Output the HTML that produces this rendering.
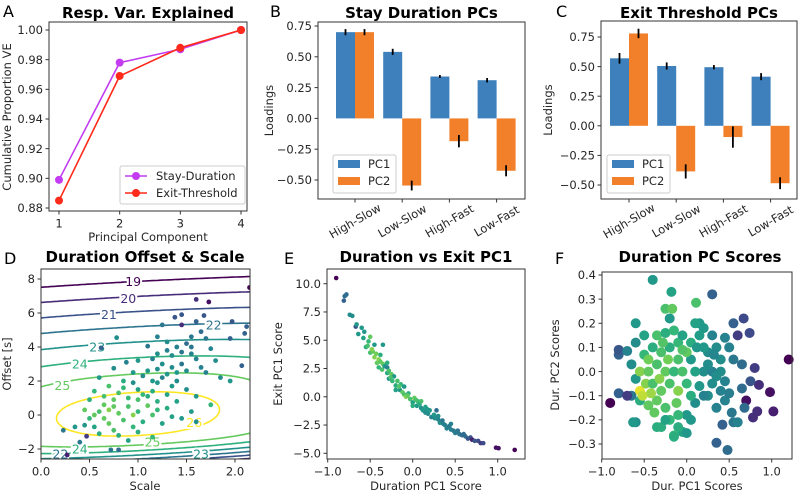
<!DOCTYPE html>
<html><head><meta charset="utf-8">
<style>
html,body{margin:0;padding:0;background:#fff;}
svg{display:block;font-family:"DejaVu Sans","Liberation Sans",sans-serif;}
.t{font-size:11.5px;fill:#262626;}
.ttl{font-size:15px;font-weight:bold;fill:#000;}
.lt{font-size:16px;fill:#000;}
</style></head>
<body>
<svg id="fig" width="800" height="493" viewBox="0 0 800 493" xmlns="http://www.w3.org/2000/svg"></svg>
<script>
// ---------- Panel A data ----------
const pcs = [1, 2, 3, 4];
const stayVE = [0.899, 0.978, 0.987, 1.0];
const exitVE = [0.885, 0.969, 0.988, 1.0];
const aYTicks = [0.88, 0.90, 0.92, 0.94, 0.96, 0.98, 1.00];
// ---------- Panel B/C data ----------
const cats = ["High-Slow", "Low-Slow", "High-Fast", "Low-Fast"];
const stayPC1 = [0.70, 0.54, 0.34, 0.31];
const stayPC1Err = [0.025, 0.025, 0.012, 0.018];
const stayPC2 = [0.70, -0.545, -0.185, -0.425];
const stayPC2Err = [0.025, 0.04, 0.05, 0.045];
const exitPC1 = [0.57, 0.505, 0.495, 0.415];
const exitPC1Err = [0.045, 0.03, 0.018, 0.03];
const exitPC2 = [0.78, -0.385, -0.095, -0.485];
const exitPC2Err = [0.04, 0.06, 0.09, 0.05];
const loadTicks = [-0.50, -0.25, 0.00, 0.25, 0.50, 0.75];
// ---------- Panel D data ----------
const dLevels = [19, 20, 21, 22, 23, 24, 25, 26];
const dXTicks = [0.0, 0.5, 1.0, 1.5, 2.0];
const dYTicks = [-2, 0, 2, 4, 6, 8];
const dPts = [[2.15,7.5,0.0],[1.6,6.8,0.15],[1.73,6.65,0.05],[1.38,5.75,0.3],[1.45,5.9,0.3],[1.45,5.3,0.15],[1.6,5.5,0.35],[1.68,5.85,0.3],[1.97,5.5,0.3],[2.12,5.2,0.35],[2.1,4.8,0.35],[1.95,4.5,0.35],[2.07,2.9,0.35],[1.65,4.9,0.4],[1.25,5.3,0.45],[1.1,4.05,0.45],[0.62,3.95,0.35],[0.78,4.55,0.55],[1.2,4.6,0.5],[1.3,4.3,0.55],[1.5,4.2,0.4],[1.7,4.5,0.45],[1.75,3.9,0.5],[1.4,4.0,0.5],[1.35,3.5,0.55],[1.55,3.6,0.5],[1.2,3.6,0.55],[1.0,3.2,0.6],[0.88,3.1,0.5],[1.25,3.0,0.55],[1.45,3.0,0.45],[1.6,3.3,0.5],[1.8,3.2,0.55],[1.5,2.6,0.55],[1.7,2.5,0.5],[1.85,2.2,0.55],[1.95,2.0,0.6],[0.75,2.75,0.55],[0.6,2.2,0.6],[1.1,2.6,0.6],[1.05,2.3,0.55],[1.3,2.4,0.6],[1.4,2.0,0.55],[1.2,1.9,0.6],[0.95,1.9,0.55],[0.85,2.0,0.7],[0.7,1.7,0.8],[0.55,1.4,0.75],[0.8,1.3,0.8],[1.0,1.5,0.65],[1.15,1.4,0.7],[1.3,1.2,0.65],[1.5,1.5,0.55],[1.6,1.1,0.6],[1.75,0.6,0.75],[1.55,0.2,0.6],[1.4,0.8,0.65],[1.2,0.8,0.7],[1.0,0.9,0.8],[0.9,0.5,0.8],[0.75,0.9,0.85],[0.65,0.6,0.85],[0.5,0.9,0.7],[0.45,0.3,0.85],[0.6,0.2,0.8],[0.8,0.1,0.85],[1.0,0.2,0.75],[1.15,0.0,0.8],[1.3,0.4,0.7],[1.45,-0.2,0.6],[1.25,-0.5,0.65],[1.05,-0.4,0.7],[0.85,-0.3,0.8],[0.7,-0.5,0.85],[0.55,-0.7,0.65],[0.45,-0.6,0.6],[0.35,-0.7,0.6],[0.6,-1.1,0.7],[0.8,-1.2,0.7],[1.0,-1.0,0.7],[1.15,-1.3,0.75],[0.9,-1.5,0.65],[0.23,-0.9,0.45],[0.47,-1.25,0.2],[0.4,-1.6,0.45],[0.72,-2.05,0.45],[0.8,-2.05,0.4],[0.27,-2.35,0.1],[1.6,-0.4,0.55],[0.95,0.0,0.9],[0.7,0.3,0.9],[1.1,0.55,0.85],[0.5,-0.2,0.75],[1.35,1.7,0.6],[1.25,2.2,0.5],[0.9,1.0,0.75],[1.1,1.1,0.7],[0.65,1.1,0.8],[1.3,3.8,0.5],[1.45,3.7,0.45],[1.55,4.6,0.45],[1.35,2.8,0.55],[1.15,3.3,0.5],[1.4,2.5,0.6],[1.2,2.7,0.55],[0.95,2.5,0.6],[0.85,1.6,0.75],[1.05,1.2,0.75],[0.75,0.5,0.85],[0.95,-0.7,0.75],[0.75,-0.9,0.8],[0.65,-0.2,0.85],[1.2,0.3,0.75],[1.35,-0.1,0.65],[1.65,2.8,0.5],[1.55,4.0,0.45],[1.15,2.0,0.6],[0.55,0.0,0.85]];
// ---------- Panel E data ----------
const eXTicks = [-1.0, -0.5, 0.0, 0.5, 1.0];
const eYTicks = [-5.0, -2.5, 0.0, 2.5, 5.0, 7.5, 10.0];
const ePts = [[-0.9,10.5,0.0],[-0.81,8.5,0.35],[-0.8,8.9,0.4],[-0.78,9.05,0.4],[-0.74,7.25,0.55],[-0.71,7.15,0.55],[-0.67,6.2,0.3],[-0.66,6.4,0.6],[-0.64,5.55,0.6],[-0.6,6.1,0.6],[-0.58,5.2,0.65],[-0.57,5.75,0.6],[-0.55,4.4,0.7],[-0.53,4.5,0.8],[-0.52,4.9,0.75],[-0.5,5.3,0.85],[-0.5,3.9,0.8],[-0.47,4.0,0.85],[-0.45,3.5,0.9],[-0.45,4.6,0.6],[-0.42,3.0,0.85],[-0.4,3.3,0.9],[-0.38,3.7,0.7],[-0.36,2.4,0.8],[-0.35,2.9,0.85],[-0.33,2.7,0.6],[-0.3,2.1,0.7],[-0.3,2.6,0.5],[-0.28,1.6,0.6],[-0.25,2.0,0.85],[-0.24,1.4,0.75],[-0.22,1.8,0.6],[-0.2,1.0,0.7],[-0.18,1.4,0.8],[-0.15,0.6,0.6],[-0.14,1.1,0.75],[-0.12,0.4,0.85],[-0.1,0.9,0.6],[-0.1,0.2,0.8],[-0.08,0.0,0.9],[-0.05,0.3,0.7],[-0.03,-0.2,0.8],[0.0,-0.5,0.65],[0.02,-0.1,0.85],[0.05,-0.8,0.6],[0.06,-0.4,0.75],[0.1,-1.0,0.55],[0.1,-0.4,0.8],[0.12,-1.2,0.6],[0.15,-0.9,0.65],[0.18,-1.5,0.55],[0.2,-1.2,0.6],[0.22,-1.8,0.5],[0.25,-1.6,0.6],[0.28,-1.2,0.4],[0.3,-2.0,0.5],[0.32,-2.3,0.55],[0.35,-2.1,0.45],[0.38,-2.5,0.5],[0.4,-2.8,0.5],[0.43,-2.6,0.45],[0.45,-2.9,0.5],[0.48,-3.0,0.45],[0.5,-3.2,0.5],[0.53,-3.0,0.4],[0.55,-3.3,0.45],[0.58,-3.4,0.4],[0.62,-3.5,0.4],[0.65,-3.7,0.3],[0.68,-3.6,0.3],[0.7,-3.8,0.1],[0.73,-3.9,0.3],[0.77,-3.9,0.25],[0.8,-4.1,0.2],[0.83,-4.1,0.25],[0.98,-4.5,0.05],[1.01,-4.55,0.05],[1.2,-4.7,0.0],[-0.35,4.6,0.6],[-0.3,3.0,0.7],[-0.4,2.6,0.75],[-0.2,0.6,0.65],[0.0,-0.8,0.7],[0.15,-1.4,0.55],[0.3,-1.7,0.55],[0.45,-2.4,0.5],[-0.28,2.3,0.8],[-0.48,4.2,0.9],[-0.43,3.8,0.88],[-0.38,3.1,0.85],[-0.26,1.7,0.8],[-0.16,0.9,0.82],[-0.06,0.1,0.85],[0.04,-0.3,0.8],[0.08,-0.7,0.7],[0.17,-1.1,0.6],[0.26,-1.9,0.55],[0.36,-2.4,0.5],[0.52,-3.1,0.45],[0.6,-3.3,0.4]];
// ---------- Panel F data ----------
const fXTicks = [-1.0, -0.5, 0.0, 0.5, 1.0];
const fYTicks = [-0.3, -0.2, -0.1, 0.0, 0.1, 0.2, 0.3, 0.4];
const fPts = [[-0.9,-0.13,0.0],[1.2,0.05,0.0],[0.98,-0.085,0.05],[0.7,-0.12,0.05],[0.78,-0.19,0.15],[0.83,-0.165,0.15],[1.02,-0.165,0.1],[0.85,-0.055,0.15],[0.8,0.015,0.2],[0.75,-0.04,0.3],[0.74,0.16,0.25],[0.67,0.22,0.25],[0.6,0.15,0.2],[0.55,0.2,0.35],[0.3,0.32,0.35],[0.35,-0.295,0.35],[0.48,-0.325,0.4],[0.42,-0.22,0.35],[0.55,-0.21,0.45],[0.6,-0.21,0.5],[0.53,-0.17,0.45],[0.68,-0.15,0.4],[0.65,-0.07,0.4],[0.65,0.03,0.4],[0.55,0.05,0.45],[0.5,0.1,0.5],[0.45,0.14,0.5],[0.4,0.05,0.55],[0.35,0.1,0.55],[0.3,0.15,0.5],[0.25,0.08,0.55],[0.2,0.18,0.6],[0.15,0.2,0.6],[0.1,0.2,0.65],[0.11,0.285,0.8],[0.2,0.0,0.55],[0.3,-0.05,0.55],[0.4,-0.08,0.5],[0.45,-0.12,0.5],[0.35,-0.15,0.5],[0.25,-0.1,0.55],[0.15,-0.06,0.6],[0.1,-0.13,0.55],[0.05,-0.2,0.6],[-0.05,-0.25,0.65],[0.0,-0.18,0.6],[-0.1,-0.23,0.7],[-0.15,-0.265,0.75],[-0.3,-0.23,0.7],[-0.2,-0.2,0.75],[-0.25,-0.15,0.8],[-0.35,-0.12,0.85],[-0.45,-0.14,0.85],[-0.55,-0.12,0.7],[-0.6,-0.21,0.55],[-0.65,-0.1,0.45],[-0.8,-0.09,0.35],[-0.7,-0.1,0.2],[-0.55,-0.08,0.98],[-0.48,-0.05,0.9],[-0.4,-0.05,0.8],[-0.3,-0.08,0.85],[-0.2,-0.05,0.8],[-0.1,-0.08,0.9],[0.0,-0.05,0.75],[-0.6,-0.03,0.6],[-0.65,0.03,0.55],[-0.55,0.0,0.9],[-0.45,0.0,0.85],[-0.35,0.03,0.8],[-0.25,0.0,0.85],[-0.15,0.0,0.75],[-0.05,0.0,0.8],[0.05,0.05,0.6],[-0.8,0.07,0.35],[-0.8,0.09,0.3],[-0.7,0.085,0.5],[-0.6,0.12,0.55],[-0.5,0.07,0.75],[-0.4,0.1,0.7],[-0.3,0.08,0.8],[-0.2,0.1,0.7],[-0.1,0.12,0.75],[0.0,0.08,0.85],[-0.5,0.15,0.65],[-0.35,0.15,0.8],[-0.25,0.16,0.7],[-0.15,0.17,0.75],[-0.05,0.15,0.65],[-0.6,0.2,0.6],[-0.2,0.22,0.6],[-0.25,0.26,0.8],[-0.17,0.26,0.85],[-0.4,0.38,0.6],[-0.18,0.33,0.65],[-0.63,-0.21,0.6],[-0.35,-0.23,0.7],[-0.15,-0.27,0.7],[0.0,-0.255,0.6],[-0.25,-0.2,0.65],[0.2,-0.1,0.5],[0.3,0.0,0.5],[0.4,0.0,0.55],[0.1,0.0,0.65],[0.2,0.1,0.6],[-0.1,0.05,0.8],[0.05,-0.1,0.7],[-0.42,-0.09,0.92],[-0.32,-0.03,0.9],[-0.22,0.05,0.88],[-0.12,-0.13,0.85],[-0.05,0.09,0.82],[0.05,0.12,0.7],[0.15,0.15,0.62],[0.25,0.03,0.55],[0.35,-0.02,0.55],[0.45,-0.04,0.5],[0.5,-0.09,0.48],[-0.45,0.05,0.88],[-0.52,-0.1,0.95],[-0.38,-0.17,0.85],[-0.28,0.12,0.82],[-0.1,-0.18,0.75],[0.12,0.1,0.6],[0.32,0.07,0.52]];

const NS = "http://www.w3.org/2000/svg";
const fig = document.getElementById("fig");
function el(tag, attrs, parent, text) {
  const e = document.createElementNS(NS, tag);
  for (const k in attrs) e.setAttribute(k, attrs[k]);
  if (text !== undefined) e.textContent = text;
  (parent || fig).appendChild(e);
  return e;
}
const VS = [[0,[68,1,84]],[0.13,[72,40,120]],[0.25,[62,74,137]],[0.38,[49,104,142]],[0.5,[38,130,142]],[0.63,[31,158,137]],[0.75,[53,183,121]],[0.88,[110,206,88]],[1,[253,231,37]]];
function viridis(t) {
  t = Math.max(0, Math.min(1, t));
  for (let i = 1; i < VS.length; i++) {
    if (t <= VS[i][0]) {
      const a = VS[i-1], b = VS[i], f = (t - a[0]) / (b[0] - a[0]);
      const c = a[1].map((v, j) => Math.round(v + (b[1][j] - v) * f));
      return "rgb(" + c.join(",") + ")";
    }
  }
  return "rgb(253,231,37)";
}
function scale(d0, d1, p0, p1) { return v => p0 + (v - d0) / (d1 - d0) * (p1 - p0); }
function frame(g, L, T, R, B) {
  const r = el("rect", {x: L, y: T, width: R - L, height: B - T, fill: "none", stroke: "#333", "stroke-width": 1}, g);
  
  
}
function yTicks(g, ticks, sy, L, fmt) {
  ticks.forEach(v => {
    const y = sy(v);
    el("line", {x1: L - 3.5, x2: L, y1: y, y2: y, stroke: "#333"}, g);
    const t = el("text", {x: L - 6, y: y + 4.2, "text-anchor": "end", class: "t"}, g, fmt(v));
    
    
  });
}
function xTicks(g, ticks, sx, B, fmt) {
  ticks.forEach(v => {
    const x = sx(v);
    el("line", {x1: x, x2: x, y1: B, y2: B + 3.5, stroke: "#333"}, g);
    const t = el("text", {x: x, y: B + 16.5, "text-anchor": "middle", class: "t"}, g, fmt(v));
    
    
  });
}
function label(g, txt, x, y, rot, cls, name) {
  const t = el("text", {x: x, y: y, "text-anchor": "middle", class: cls || "t", transform: rot ? "rotate(-90 " + x + " " + y + ")" : ""}, g, txt);
  
  
  return t;
}
const minus = s => s.replace("-", "\u2212");
const f2 = v => minus(v.toFixed(2));
const f1 = v => minus(v.toFixed(1));
const f0 = v => minus(v.toFixed(0));

// ================= Panel A =================
(function () {
  const g = el("g", {});  
  const L = 49, R = 247, T = 22, B = 211;
  const sx = scale(1, 4, 59, 241), sy = scale(0.88, 1.0, 208, 30);
  yTicks(g, aYTicks, sy, L, f2);
  xTicks(g, pcs, sx, B, v => String(v));
  const series = [[stayVE, "#c43cf2", "stay-duration-line"], [exitVE, "#ff2a1a", "exit-threshold-line"]];
  series.forEach(([vals, col, nm]) => {
    const p = el("polyline", {points: vals.map((v, i) => sx(pcs[i]) + "," + sy(v)).join(" "), fill: "none", stroke: col, "stroke-width": 1.6}, g);
     
    vals.forEach((v, i) => {
      const c = el("circle", {cx: sx(pcs[i]), cy: sy(v), r: 4, fill: col}, g);
       
    });
  });
  frame(g, L, T, R, B);
  const lg = el("g", {}, g);  
  el("rect", {x: 120, y: 166, width: 125, height: 38, rx: 2, fill: "#fff", stroke: "#ccc"}, lg);
  [["Stay-Duration", "#c43cf2", 176], ["Exit-Threshold", "#ff2a1a", 193]].forEach(([t, c, y]) => {
    el("line", {x1: 125, x2: 147, y1: y, y2: y, stroke: c, "stroke-width": 1.6}, lg);
    el("circle", {cx: 136, cy: y, r: 4, fill: c}, lg);
    const tx = el("text", {x: 156, y: y + 4.2, class: "t"}, lg, t);
     
  });
  label(g, "Resp. Var. Explained", 148, 18, false, "ttl", "chart-title");
  el("text", {x: 3, y: 17, class: "lt"}, g, "A");
  label(g, "Principal Component", 148, 241, false, "t", "x-axis-title");
  label(g, "Cumulative Proportion VE", 11, 117, true, "t", "y-axis-title");
})();

// ================= Panels B, C =================
function barPanel(name, letter, title, L, R, T, B, x0, sy0, sy1, c0, pc1, e1, pc2, e2, legX) {
  const g = el("g", {});  
  const sy = scale(0.75, -0.5, sy0, sy1);
  const sx = i => x0 + i * 47.2;
  const bw = 19;
  yTicks(g, loadTicks, sy, L, f2);
  cats.forEach((c, i) => {
    const x = sx(i);
    el("line", {x1: x, x2: x, y1: B, y2: B + 3.5, stroke: "#333"}, g);
    const t = el("text", {x: x, y: B + 26, "text-anchor": "middle", class: "t", transform: "rotate(-30 " + x + " " + (B + 22) + ")"}, g, c);
     
    [[pc1, e1, "#3d80bc", x - bw, "bar-pc1"], [pc2, e2, "#f2802a", x, "bar-pc2"]].forEach(([vals, errs, col, bx, nm]) => {
      const v = vals[i], y0 = sy(0), y1 = sy(v);
      const r = el("rect", {x: bx, y: Math.min(y0, y1), width: bw, height: Math.abs(y1 - y0), fill: col}, g);
       
      const ex = bx + bw / 2;
      const e = el("line", {x1: ex, x2: ex, y1: sy(v - errs[i]), y2: sy(v + errs[i]), stroke: "#000", "stroke-width": 1.8}, g);
       
    });
  });
  frame(g, L, T, R, B);
  const lg = el("g", {}, g);  
  el("rect", {x: legX, y: 155, width: 63, height: 38, rx: 2, fill: "#fff", stroke: "#ccc"}, lg);
  [["PC1", "#3d80bc", 164], ["PC2", "#f2802a", 181]].forEach(([t, c, y]) => {
    el("rect", {x: legX + 5, y: y - 4, width: 22, height: 8, fill: c}, lg);
    const tx = el("text", {x: legX + 35, y: y + 4.2, class: "t"}, lg, t);
     
  });
  label(g, title, (L + R) / 2, 18, false, "ttl", "chart-title");
  el("text", {x: letter[1], y: 17, class: "lt"}, g, letter[0]);
  label(g, "Loadings", c0, (T + B) / 2, true, "t", "y-axis-title");
}
barPanel("panel-b", ["B", 270], "Stay Duration PCs", 318, 525, 22, 199, 355, 26, 180, 273, stayPC1, stayPC1Err, stayPC2, stayPC2Err, 333);
barPanel("panel-c", ["C", 556], "Exit Threshold PCs", 601, 797, 21, 199, 629, 37, 185, 552, exitPC1, exitPC1Err, exitPC2, exitPC2Err, 607);

// ================= Panel D =================
(function () {
  const g = el("g", {});  
  const L = 41, R = 250, T = 269, B = 459;
  const sx = scale(0, 2.0, 41, 235), sy = scale(-2, 8, 449, 279);
  const sMax = 2.155, oMin = -2.59, oMax = 8.59;
  const cp = el("clipPath", {id: "clipD"}, g);
  el("rect", {x: L, y: T, width: R - L, height: B - T}, cp);
  function field(s, o) {
    const v = s - 1.0;
    const u = o - (0.06 + 0.3 * (s - 1.0));
    const k = 1.3, a = 1.495;
    let gg = a * (Math.sqrt(1 + (u / k) * (u / k)) - 1);
    if (u < -1.2) gg += 1.3 * (-u - 1.2) * (-u - 1.2);
    const h = 0.85 * v * v / (1 + (u / 2) * (u / 2));
    return 26.6 - gg - h;
  }
  const nx = 90, ny = 160;
  const gs = [], go = [];
  for (let i = 0; i <= nx; i++) gs.push(-0.05 + i * (sMax + 0.1) / nx);
  for (let j = 0; j <= ny; j++) go.push(oMin - 0.1 + j * (oMax - oMin + 0.2) / ny);
  const F = gs.map(s => go.map(o => field(s, o)));
  const cg = el("g", {"clip-path": "url(#clipD)"}, g);
  dLevels.forEach(lv => {
    let d = "";
    for (let i = 0; i < nx; i++) for (let j = 0; j < ny; j++) {
      const c = [[gs[i], go[j], F[i][j]], [gs[i+1], go[j], F[i+1][j]], [gs[i+1], go[j+1], F[i+1][j+1]], [gs[i], go[j+1], F[i][j+1]]];
      const pts = [];
      for (let e = 0; e < 4; e++) {
        const p = c[e], q = c[(e + 1) % 4];
        if ((p[2] - lv) * (q[2] - lv) < 0) {
          const f = (lv - p[2]) / (q[2] - p[2]);
          pts.push([sx(p[0] + f * (q[0] - p[0])), sy(p[1] + f * (q[1] - p[1]))]);
        }
      }
      if (pts.length >= 2) d += "M" + pts[0][0].toFixed(1) + "," + pts[0][1].toFixed(1) + "L" + pts[1][0].toFixed(1) + "," + pts[1][1].toFixed(1);
      if (pts.length === 4) d += "M" + pts[2][0].toFixed(1) + "," + pts[2][1].toFixed(1) + "L" + pts[3][0].toFixed(1) + "," + pts[3][1].toFixed(1);
    }
    const p = el("path", {d: d, fill: "none", stroke: viridis((lv - 19) / 7), "stroke-width": 1.6, "stroke-linecap": "round"}, cg);
     
  });
  const labs = [[19,0.95,7.85],[20,0.9,6.85],[21,0.7,5.9],[22,1.78,5.3],[23,0.58,4.0],[24,0.4,3.0],[25,0.22,1.75],[26,1.58,-0.45],[25,1.15,-1.6],[24,0.4,-2.0],[23,1.65,-2.3],[22,0.2,-2.3]];
  labs.forEach(([lv, s, o]) => {
    const t = el("text", {x: sx(s), y: sy(o) + 4.5, "text-anchor": "middle", class: "t", style: "fill:" + viridis((lv - 19) / 7) + ";stroke:#fff;stroke-width:4;paint-order:stroke;font-size:12.5px"}, cg, String(lv));
     
  });
  dPts.forEach(([s, o, c]) => {
    const p = el("circle", {cx: sx(s), cy: sy(o), r: 2.4, fill: viridis(c)}, cg);
     
  });
  yTicks(g, dYTicks, sy, L, f0);
  xTicks(g, dXTicks, sx, B, f1);
  frame(g, L, T, R, B);
  label(g, "Duration Offset & Scale", 145, 262, false, "ttl", "chart-title");
  el("text", {x: 4, y: 264, class: "lt"}, g, "D");
  label(g, "Scale", 145, 490, false, "t", "x-axis-title");
  label(g, "Offset [s]", 11, 364, true, "t", "y-axis-title");
})();

// ================= Panel E =================
(function () {
  const g = el("g", {});  
  const L = 327, R = 525, T = 269, B = 459;
  const sx = scale(-1, 1, 327.7, 497.7), sy = scale(-5, 10, 453.3, 283.7);
  ePts.forEach(([x, y, c]) => {
    const p = el("circle", {cx: sx(x), cy: sy(y), r: 2.3, fill: viridis(c)}, g);
     
  });
  yTicks(g, eYTicks, sy, L, f1);
  xTicks(g, eXTicks, sx, B, f1);
  frame(g, L, T, R, B);
  label(g, "Duration vs Exit PC1", 426, 262, false, "ttl", "chart-title");
  el("text", {x: 284, y: 264, class: "lt"}, g, "E");
  label(g, "Duration PC1 Score", 426, 490, false, "t", "x-axis-title");
  label(g, "Exit PC1 Score", 282, 364, true, "t", "y-axis-title");
})();

// ================= Panel F =================
(function () {
  const g = el("g", {});  
  const L = 602, R = 792, T = 272, B = 459;
  const sx = scale(-1, 1, 601.7, 771.7), sy = scale(-0.3, 0.4, 444, 275);
  fPts.forEach(([x, y, c]) => {
    const p = el("circle", {cx: sx(x), cy: sy(y), r: 5, fill: viridis(c)}, g);
     
  });
  yTicks(g, fYTicks, sy, L, f1);
  xTicks(g, fXTicks, sx, B, f1);
  frame(g, L, T, R, B);
  label(g, "Duration PC Scores", 700, 262, false, "ttl", "chart-title");
  el("text", {x: 555, y: 264, class: "lt"}, g, "F");
  label(g, "Dur. PC1 Scores", 697, 490, false, "t", "x-axis-title");
  label(g, "Dur. PC2 Scores", 559, 365, true, "t", "y-axis-title");
})();
</script>
</body></html>
